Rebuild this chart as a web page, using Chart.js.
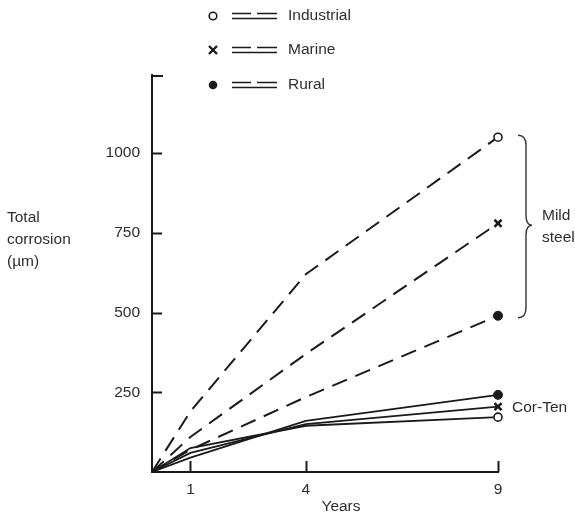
<!DOCTYPE html>
<html>
<head>
<meta charset="utf-8">
<script src="https://cdn.jsdelivr.net/npm/chart.js@4/dist/chart.umd.min.js"></script>
<style>
  html, body { margin: 0; padding: 0; background: #ffffff; }
  #wrap { width: 575px; height: 516px; }
</style>
</head>
<body>
<div id="wrap"><canvas id="c" width="575" height="516"></canvas></div>
<script>
// ---- data ----
const years = [0, 1, 4, 9];
const mildIndustrial = [0, 190, 620, 1050];
const mildMarine = [0, 110, 370, 780];
const mildRural = [0, 70, 235, 490];
const corIndustrial = [0, 75, 145, 172];
const corMarine = [0, 60, 150, 205];
const corRural = [0, 45, 160, 242];
const xTickValues = [1, 4, 9];
const yTickValues = [250, 500, 750, 1000];
const legendNames = ['Industrial', 'Marine', 'Rural'];

const INK = '#1a1a1a';
const TXT = '#2e2e2e';
const FONT = '"Liberation Sans", Arial, sans-serif';
const FS = 15.5;

function pts(vals) { return years.map((y, i) => ({ x: y, y: vals[i] })); }
const last = years.length - 1;

function ds(vals, dashed, style) {
  const s = {
    circle: { pointStyle: 'circle', r: 4, bg: '#ffffff', bw: 1.6 },
    cross: { pointStyle: 'crossRot', r: 5, bg: INK, bw: 2.6 },
    dot: { pointStyle: 'circle', r: 4.5, bg: INK, bw: 1 }
  }[style];
  return {
    data: pts(vals),
    borderColor: INK,
    borderWidth: dashed ? 2 : 1.8,
    borderDash: dashed ? [16, 9] : [],
    tension: 0,
    fill: false,
    clip: false,
    pointStyle: s.pointStyle,
    pointRadius: c => c.dataIndex === last ? s.r : 0,
    pointHoverRadius: c => c.dataIndex === last ? s.r : 0,
    pointBackgroundColor: s.bg,
    pointBorderColor: INK,
    pointBorderWidth: s.bw
  };
}

const decor = {
  id: 'decor',
  afterDraw(chart) {
    const ctx = chart.ctx;
    const xs = chart.scales.x, ys = chart.scales.y;
    const a = chart.chartArea;
    ctx.save();
    ctx.strokeStyle = INK;
    ctx.fillStyle = INK;
    ctx.lineWidth = 2;
    ctx.setLineDash([]);
    // inner ticks on y
    yTickValues.forEach(v => {
      const py = Math.round(ys.getPixelForValue(v)) + 0.5;
      ctx.beginPath(); ctx.moveTo(a.left, py); ctx.lineTo(a.left + 10, py); ctx.stroke();
    });
    // top cap of y axis
    ctx.beginPath(); ctx.moveTo(a.left, a.top + 1); ctx.lineTo(a.left + 11, a.top + 1); ctx.stroke();
    // inner ticks on x
    xTickValues.forEach(v => {
      const px = Math.round(xs.getPixelForValue(v)) + 0.5;
      ctx.beginPath(); ctx.moveTo(px, a.bottom); ctx.lineTo(px, a.bottom - 11); ctx.stroke();
    });

    // legend
    ctx.font = FS + 'px ' + FONT;
    ctx.textBaseline = 'middle';
    ctx.textAlign = 'left';
    const rows = [16, 50, 85];
    const styles = ['circle', 'cross', 'dot'];
    rows.forEach((ry, i) => {
      const mx = 213;
      ctx.lineWidth = 1.6;
      ctx.strokeStyle = INK;
      if (styles[i] === 'circle') {
        ctx.beginPath(); ctx.arc(mx, ry, 3.8, 0, Math.PI * 2);
        ctx.fillStyle = '#fff'; ctx.fill(); ctx.stroke();
      } else if (styles[i] === 'cross') {
        ctx.lineWidth = 2.4;
        ctx.beginPath();
        ctx.moveTo(mx - 4, ry - 4); ctx.lineTo(mx + 4, ry + 4);
        ctx.moveTo(mx + 4, ry - 4); ctx.lineTo(mx - 4, ry + 4);
        ctx.stroke();
      } else {
        ctx.fillStyle = INK;
        ctx.beginPath(); ctx.arc(mx, ry, 4.3, 0, Math.PI * 2); ctx.fill();
      }
      // double-line symbol: dashed above, solid below
      ctx.lineWidth = 1.6;
      ctx.beginPath();
      ctx.moveTo(232, ry - 2.5); ctx.lineTo(251, ry - 2.5);
      ctx.moveTo(257, ry - 2.5); ctx.lineTo(277, ry - 2.5);
      ctx.moveTo(232, ry + 2.5); ctx.lineTo(277, ry + 2.5);
      ctx.stroke();
      ctx.fillStyle = TXT;
      ctx.fillText(legendNames[i], 288, ry);
    });

    // y-axis title
    ctx.fillStyle = TXT;
    ctx.textAlign = 'left';
    ctx.fillText('Total', 7, 218);
    ctx.fillText('corrosion', 7, 240);
    ctx.fillText('(\u00b5m)', 7, 262);

    // x-axis title
    ctx.textAlign = 'center';
    ctx.fillText('Years', 341, 507);

    // brace for mild steel
    const bx = xs.getPixelForValue(9) + 20;
    const yTop = ys.getPixelForValue(mildIndustrial[last]) - 2;
    const yBot = ys.getPixelForValue(mildRural[last]) + 2;
    const yMid = ys.getPixelForValue(mildMarine[last]) + 2;
    ctx.strokeStyle = '#333';
    ctx.lineWidth = 1.4;
    ctx.beginPath();
    ctx.moveTo(bx, yTop);
    ctx.quadraticCurveTo(bx + 8, yTop, bx + 8, yTop + 10);
    ctx.lineTo(bx + 8, yMid - 10);
    ctx.quadraticCurveTo(bx + 8, yMid, bx + 14, yMid);
    ctx.quadraticCurveTo(bx + 8, yMid, bx + 8, yMid + 10);
    ctx.lineTo(bx + 8, yBot - 10);
    ctx.quadraticCurveTo(bx + 8, yBot, bx, yBot);
    ctx.stroke();

    ctx.textAlign = 'left';
    ctx.fillStyle = TXT;
    ctx.fillText('Mild', 542, 216);
    ctx.fillText('steel', 542, 238);
    ctx.fillText('Cor-Ten', 512, 408);
    ctx.restore();
  }
};

new Chart(document.getElementById('c'), {
  type: 'line',
  data: {
    datasets: [
      ds(mildIndustrial, true, 'circle'),
      ds(mildMarine, true, 'cross'),
      ds(mildRural, true, 'dot'),
      ds(corIndustrial, false, 'circle'),
      ds(corMarine, false, 'cross'),
      ds(corRural, false, 'dot')
    ]
  },
  options: {
    responsive: false,
    animation: false,
    events: [],
    layout: { padding: { top: 75, right: 77, left: 0, bottom: 0 } },
    plugins: { legend: { display: false }, tooltip: { enabled: false }, title: { display: false } },
    scales: {
      x: {
        type: 'linear',
        min: 0, max: 9,
        afterBuildTicks: s => { s.ticks = xTickValues.map(v => ({ value: v })); },
        afterFit: s => { s.height = 44; },
        grid: { display: true, drawOnChartArea: false, drawTicks: false },
        border: { display: true, color: INK, width: 2 },
        ticks: { color: TXT, font: { family: FONT, size: FS }, padding: 8, maxRotation: 0, autoSkip: false,
                 callback: v => String(v) }
      },
      y: {
        type: 'linear',
        min: 0, max: 1245,
        afterBuildTicks: s => { s.ticks = yTickValues.map(v => ({ value: v })); },
        afterFit: s => { s.width = 152; },
        grid: { display: true, drawOnChartArea: false, drawTicks: false },
        border: { display: true, color: INK, width: 2 },
        ticks: { color: TXT, font: { family: FONT, size: FS }, padding: 12, autoSkip: false,
                 callback: v => String(v) }
      }
    }
  },
  plugins: [decor]
});
</script>
</body>
</html>
